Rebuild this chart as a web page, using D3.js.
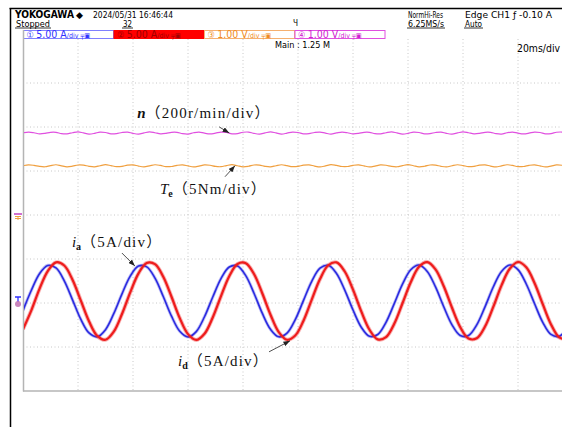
<!DOCTYPE html>
<html>
<head>
<meta charset="utf-8">
<script src="https://cdn.jsdelivr.net/npm/d3@7"></script>
<style>
body { margin: 0; background: #fff; }
svg { display: block; }
.hdr { font-family: "Liberation Sans Narrow", "DejaVu Sans Condensed", "Liberation Sans", sans-serif; }
.lbl { font-family: "Liberation Serif", "Noto Sans CJK SC", serif; fill: #111; }
</style>
</head>
<body>
<div id="chart-area"></div>
<script>
var W = 562, H = 427;

// phase currents, sampled every 3 ms (A)
var curTimes = d3.range(0, 199, 3);
var iaValues = [
  -0.85, 1.42, 3.33, 4.27, 3.98, 2.52, 0.36, -1.84, -3.40, -3.84, -3.03,
  -1.21, 1.04, 3.06, 4.20, 4.11, 2.83, 0.74, -1.50, -3.21, -3.86, -3.25,
  -1.56, 0.68, 2.78, 4.09, 4.21, 3.11, 1.11, -1.16, -2.99, -3.84, -3.43,
  -1.89, 0.30, 2.47, 3.95, 4.28, 3.36, 1.47, -0.79, -2.75, -3.79, -3.58,
  -2.20, -0.07, 2.15, 3.78, 4.32, 3.59, 1.83, -0.43, -2.48, -3.70, -3.70,
  -2.49, -0.44, 1.82, 3.58, 4.32, 3.79, 2.16, -0.06, -2.19, -3.57, -3.79, -2.76
];
var idValues = [
  -2.98, -0.86, 1.60, 3.63, 4.62, 4.26, 2.64, 0.29, -2.08, -3.74, -4.18,
  -3.26, -1.25, 1.20, 3.36, 4.55, 4.41, 2.98, 0.71, -1.72, -3.54, -4.20,
  -3.50, -1.64, 0.78, 3.05, 4.43, 4.53, 3.30, 1.11, -1.33, -3.31, -4.18,
  -3.70, -2.01, 0.38, 2.72, 4.29, 4.61, 3.58, 1.52, -0.95, -3.04, -4.13,
  -3.88, -2.36, -0.03, 2.36, 4.11, 4.65, 3.83, 1.90, -0.54, -2.75, -4.04,
  -4.01, -2.68, -0.45, 2.00, 3.89, 4.66, 4.06, 2.28, -0.13, -2.43, -3.91, -4.11
];

// speed (r/min) and torque (Nm), sampled every 2 ms
var slowTimes = d3.range(0, 201, 2);
var nValues = [
  373, 377, 374, 369, 371, 376, 376, 370, 369, 374,
  378, 373, 368, 371, 377, 375, 369, 370, 375, 377,
  371, 368, 373, 378, 374, 369, 371, 376, 376, 370,
  368, 374, 377, 372, 369, 372, 377, 375, 369, 370,
  376, 377, 371, 368, 373, 378, 373, 368, 372, 377,
  375, 369, 370, 375, 377, 372, 368, 373, 377, 374,
  369, 371, 376, 376, 370, 369, 374, 378, 373, 368,
  371, 377, 375, 369, 370, 375, 377, 371, 368, 373,
  378, 374, 369, 371, 376, 376, 370, 368, 374, 377,
  372, 369, 372, 377, 375, 369, 370, 376, 377, 371,
  368
];
var teValues = [
  5.60, 5.70, 5.64, 5.52, 5.48, 5.62, 5.71, 5.58, 5.48, 5.55,
  5.68, 5.66, 5.53, 5.47, 5.60, 5.72, 5.61, 5.50, 5.53, 5.66,
  5.70, 5.56, 5.48, 5.58, 5.71, 5.63, 5.50, 5.51, 5.64, 5.70,
  5.58, 5.47, 5.56, 5.69, 5.65, 5.52, 5.49, 5.62, 5.72, 5.60,
  5.48, 5.54, 5.68, 5.67, 5.53, 5.47, 5.60, 5.71, 5.61, 5.49,
  5.53, 5.66, 5.70, 5.56, 5.47, 5.58, 5.72, 5.63, 5.51, 5.51,
  5.64, 5.70, 5.58, 5.47, 5.56, 5.69, 5.65, 5.52, 5.48, 5.61,
  5.72, 5.60, 5.48, 5.54, 5.68, 5.67, 5.53, 5.46, 5.60, 5.71,
  5.62, 5.50, 5.53, 5.66, 5.70, 5.56, 5.47, 5.58, 5.71, 5.63,
  5.50, 5.51, 5.64, 5.70, 5.58, 5.47, 5.56, 5.69, 5.65, 5.52,
  5.49
];

// scope header
var chanNames = ["\u2460", "\u2461", "\u2462", "\u2463"];
var chanScales = ["5.00 A", "5.00 A", "1.00 V", "1.00 V"];
var chanStroke = ["#8080ff", "#ff0000", "#f5b070", "#e050e0"];
var chanFill = ["#fff", "#ff0000", "#fff", "#fff"];
var chanText = ["#3030ff", "#a00000", "#f08a20", "#d020d0"];

var svg = d3.select("#chart-area")
  .append("svg")
  .attr("width", W)
  .attr("height", H);

// 10 div x 20 ms, 8 div vertical
var x = d3.scaleLinear().domain([0, 200]).range([23, 573]);
var yDiv = d3.scaleLinear().domain([-4, 4]).range([391, 39]);
var yCur = d3.scaleLinear().domain([-10, 30]).range([391, 39]);
var yN = d3.scaleLinear().domain([-800, 800]).range([391, 39]);
var yTe = d3.scaleLinear().domain([-20, 20]).range([391, 39]);

// outer black frame
svg.append("line").attr("x1", 9.5).attr("x2", W).attr("y1", 8.5).attr("y2", 8.5)
  .attr("stroke", "#000").attr("stroke-width", 1.5);
svg.append("line").attr("x1", 10.5).attr("x2", 10.5).attr("y1", 8).attr("y2", H)
  .attr("stroke", "#000").attr("stroke-width", 1.5);

// header text, fitted to the widths seen on the screen
var hdr = svg.append("g").attr("class", "hdr").attr("fill", "#000");
function fitText(str, tx, ty, size, len) {
  return hdr.append("text").attr("x", tx).attr("y", ty).attr("font-size", size)
    .attr("textLength", len).attr("lengthAdjust", "spacingAndGlyphs").text(str);
}
fitText("YOKOGAWA", 15, 18, 10, 59).attr("font-weight", "bold");
fitText("\u25C6", 76, 18, 9, 7);
fitText("2024/05/31  16:46:44", 93, 17.5, 9, 80);
fitText("NormHi-Res", 408, 17.5, 9, 35);
fitText("Edge CH1 \u0192 -0.10 A", 465, 17.5, 9, 87);
var row2 = [["Stopped", 16, 34], ["32", 123, 9], ["6.25MS/s", 408, 36], ["Auto", 465, 17]];
row2.forEach(function (d) {
  fitText(d[0], d[1], 26.5, 9, d[2]);
  hdr.append("line").attr("x1", d[1] - 1).attr("x2", d[1] + d[2] + 1)
    .attr("y1", 28).attr("y2", 28).attr("stroke", "#000").attr("stroke-width", 0.8);
});
fitText("\u0427", 293, 25.5, 8, 5);
fitText("Main : 1.25 M", 275, 48, 9, 55);
fitText("20ms/div", 517, 52, 11, 43);

// channel boxes
chanNames.forEach(function (name, i) {
  var bx = 23.5 + i * 90.5;
  var g = hdr.append("g");
  g.append("rect").attr("x", bx).attr("y", 30.5).attr("width", 90).attr("height", 8)
    .attr("fill", chanFill[i]).attr("stroke", chanStroke[i]).attr("stroke-width", 1);
  var t = g.append("text").attr("x", bx + 3).attr("y", 38).attr("fill", chanText[i]).attr("font-size", 10.5);
  t.append("tspan").attr("font-size", 9).text(name + " ");
  t.append("tspan").text(chanScales[i]);
  t.append("tspan").attr("font-size", 7).text("/div \u2564\u25A3");
});

// plot frame and grid
var grid = svg.append("g");
x.ticks(10).filter(function (d) { return d > 0 && d < 200; }).forEach(function (d) {
  grid.append("line").attr("x1", x(d)).attr("x2", x(d)).attr("y1", 39).attr("y2", 391)
    .attr("stroke", "#c8c8c8").attr("stroke-width", 1).attr("stroke-dasharray", "1,2.5");
});
yDiv.ticks(8).filter(function (d) { return d > -4 && d < 4; }).forEach(function (d) {
  grid.append("line").attr("x1", 23).attr("x2", W).attr("y1", yDiv(d)).attr("y2", yDiv(d))
    .attr("stroke", "#c8c8c8").attr("stroke-width", 1).attr("stroke-dasharray", "1,2.5");
});
svg.append("line").attr("x1", 23.5).attr("x2", 23.5).attr("y1", 30).attr("y2", 391.5)
  .attr("stroke", "#b4b4b4").attr("stroke-width", 1.5);
svg.append("line").attr("x1", 23).attr("x2", W).attr("y1", 391).attr("y2", 391)
  .attr("stroke", "#b4b4b4").attr("stroke-width", 1.5);

// ground markers on the left
var gN = yN(0), gC = yCur(0);
svg.append("line").attr("x1", 14).attr("x2", 22).attr("y1", gN - 1).attr("y2", gN - 1)
  .attr("stroke", "#c040c0").attr("stroke-width", 1.5);
svg.append("path").attr("d", "M15," + (gN + 1.5) + "h6M15," + (gN + 3.5) + "h6M18," + (gN + 1) + "v4")
  .attr("stroke", "#f0a040").attr("stroke-width", 1).attr("fill", "none");
svg.append("path").attr("d", "M15," + (gC - 6) + "h6M18," + (gC - 6) + "v5")
  .attr("stroke", "#3030ff").attr("stroke-width", 1.3).attr("fill", "none");
svg.append("circle").attr("cx", 18).attr("cy", gC + 1).attr("r", 3)
  .attr("fill", "#c070b0").attr("opacity", 0.85);

// traces
svg.append("clipPath").attr("id", "plot-clip")
  .append("rect").attr("x", 24).attr("y", 39).attr("width", 550).attr("height", 352);
var traces = svg.append("g").attr("clip-path", "url(#plot-clip)");

var lineN = d3.line().x(function (d, i) { return x(slowTimes[i]); })
  .y(function (d) { return yN(d); }).curve(d3.curveCatmullRom);
var lineTe = d3.line().x(function (d, i) { return x(slowTimes[i]); })
  .y(function (d) { return yTe(d); }).curve(d3.curveCatmullRom);
var lineCur = d3.line().x(function (d, i) { return x(curTimes[i]); })
  .y(function (d) { return yCur(d); }).curve(d3.curveCatmullRom);

traces.append("path").datum(nValues).attr("d", lineN)
  .attr("fill", "none").attr("stroke", "#e050e0").attr("stroke-width", 1.2);
traces.append("path").datum(teValues).attr("d", lineTe)
  .attr("fill", "none").attr("stroke", "#f0a040").attr("stroke-width", 1.2);
// faint wider band under each current to mimic the noisy trace
traces.append("path").datum(iaValues).attr("d", lineCur)
  .attr("fill", "none").attr("stroke", "#2a2ae0").attr("stroke-width", 3.2).attr("stroke-opacity", 0.3);
traces.append("path").datum(iaValues).attr("d", lineCur)
  .attr("fill", "none").attr("stroke", "#2a2ae0").attr("stroke-width", 1.6);
traces.append("path").datum(idValues).attr("d", lineCur)
  .attr("fill", "none").attr("stroke", "#ee1c1c").attr("stroke-width", 4).attr("stroke-opacity", 0.35);
traces.append("path").datum(idValues).attr("d", lineCur)
  .attr("fill", "none").attr("stroke", "#ee1c1c").attr("stroke-width", 2.2);

// annotations: arrow tip sits on the trace
svg.append("defs").append("marker").attr("id", "ah")
  .attr("viewBox", "0 0 8 6").attr("refX", 8).attr("refY", 3)
  .attr("markerWidth", 7).attr("markerHeight", 5).attr("markerUnits", "userSpaceOnUse")
  .attr("orient", "auto")
  .append("path").attr("d", "M0,0L8,3L0,6Z").attr("fill", "#222");

var notes = [
  { tx: x(75), ty: yN(373), sx: -10, sy: -6, lx: -92, ly: -15, main: "n", sub: "", rest: "\uFF08200r/min/div\uFF09" },
  { tx: x(77.1), ty: yTe(5.6), sx: -10, sy: 11, lx: -75, ly: 28, main: "T", sub: "e", rest: "\uFF085Nm/div\uFF09" },
  { tx: x(40.7), ty: yCur(4.2), sx: -13, sy: -13, lx: -63, ly: -19, main: "i", sub: "a", rest: "\uFF085A/div\uFF09" },
  { tx: x(97.1), ty: yCur(-4.3), sx: -21, sy: 11, lx: -112, ly: 25, main: "i", sub: "d", rest: "\uFF085A/div\uFF09" }
];
notes.forEach(function (d) {
  svg.append("line").attr("x1", d.tx + d.sx).attr("y1", d.ty + d.sy)
    .attr("x2", d.tx).attr("y2", d.ty)
    .attr("stroke", "#222").attr("stroke-width", 0.8).attr("marker-end", "url(#ah)");
  var t = svg.append("text").attr("class", "lbl").attr("x", d.tx + d.lx).attr("y", d.ty + d.ly)
    .attr("font-size", 15);
  t.append("tspan").attr("font-style", "italic").attr("font-weight", d.main === "n" ? "bold" : "normal").text(d.main);
  if (d.sub) {
    t.append("tspan").attr("font-weight", "bold").attr("font-size", 10).attr("dy", 3).text(d.sub);
    t.append("tspan").attr("dy", -3).attr("letter-spacing", 1.2).text(d.rest);
  } else {
    t.append("tspan").attr("letter-spacing", 1.2).text(d.rest);
  }
});
</script>
</body>
</html>
